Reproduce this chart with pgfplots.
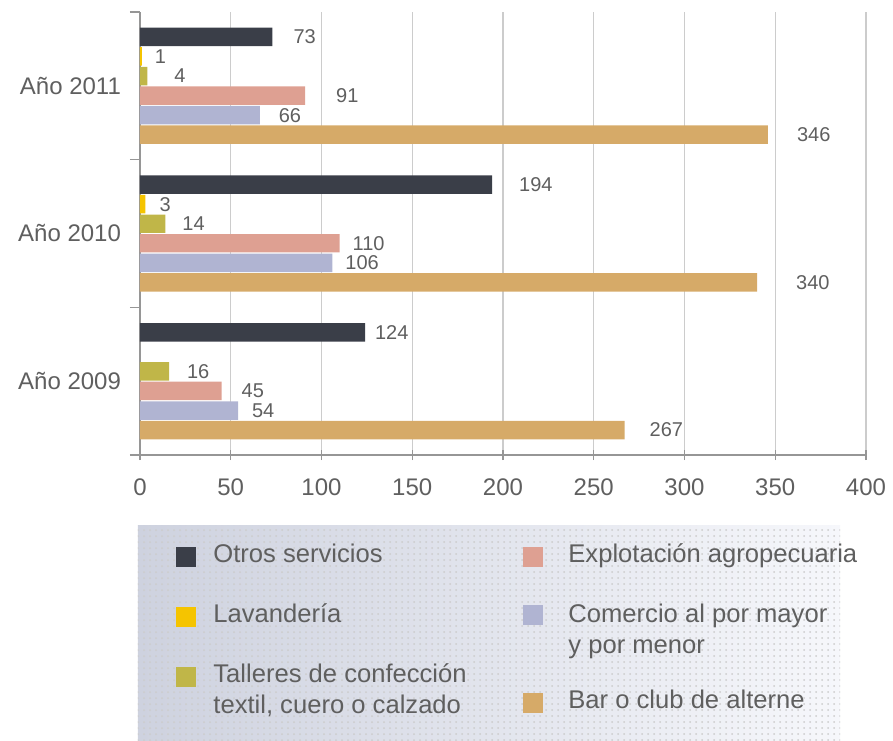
\documentclass[border=0pt]{standalone}
\usepackage{fontspec}
\setmainfont{Liberation Sans}
\usepackage{pgfplots}
\usepackage{pgfplotstable}
\pgfplotsset{compat=1.18}
\usetikzlibrary{patterns}

\definecolor{textgray}{RGB}{95,95,95}
\definecolor{axgray}{RGB}{150,150,150}
\definecolor{cotros}{RGB}{58,62,72}
\definecolor{clav}{RGB}{245,196,0}
\definecolor{ctal}{RGB}{192,182,72}
\definecolor{cexp}{RGB}{222,160,146}
\definecolor{ccom}{RGB}{176,180,210}
\definecolor{cbar}{RGB}{214,170,104}
\definecolor{bgleft}{RGB}{206,210,223}
\definecolor{bgright}{RGB}{246,247,251}

% x = value, y = bar position (group 2 = 2011, 1 = 2010, 0 = 2009), dx = label gap
\pgfplotstableread{
x   y      dx
73  2.331  7
194 1.331  10
124 0.331  1.5
}\otros
\pgfplotstableread{
x   y      dx
1   2.199  3
3   1.199  3.5
}\lav
\pgfplotstableread{
x   y      dx
4   2.066  10
14  1.066  5
16  0.066  5.5
}\tal
\pgfplotstableread{
x   y      dx
91  1.934  12
110 0.934  3
45  -0.066 6.5
}\expl
\pgfplotstableread{
x   y      dx
66  1.801  6
106 0.801  3
54  -0.199 3.5
}\com
\pgfplotstableread{
x   y      dx
346 1.669  11
340 0.669  16
267 -0.331 9
}\barclub

\begin{document}
\begin{tikzpicture}
\useasboundingbox (-70pt,-142.5pt) rectangle (376.5pt,227.5pt);

\begin{axis}[
    at={(0,0)}, anchor=south west,
    scale only axis,
    width=363pt, height=221.5pt,
    xmin=0, xmax=400, ymin=-0.5, ymax=2.5,
    axis x line*=bottom, axis y line*=left,
    axis line style={axgray, line width=0.6pt},
    xtick={0,50,...,400},
    xmajorgrids,
    grid style={gray!40, line width=0.6pt},
    ytick={-0.5,0.5,1.5,2.5},
    yticklabels={,,,},
    extra y ticks={0,1,2},
    extra y tick labels={Año 2009,Año 2010,Año 2011},
    extra y tick style={major tick length=0pt, yticklabel style={xshift=-6pt}},
    tick align=center,
    major tick length=5pt,
    tick style={axgray, line width=0.6pt},
    ticklabel style={font=\fontsize{12}{14}\selectfont, text=textgray},
    xticklabel style={yshift=-6pt},
    /pgf/number format/assume math mode=true,
    xbar, bar width=0.125, bar shift=0pt,
    visualization depends on={\thisrow{dx} \as \dx},
    nodes near coords,
    nodes near coords style={font=\fontsize{10}{12}\selectfont, text=textgray, anchor=west, xshift=\dx pt},
    clip=false,
]
\addplot[fill=cotros, draw=none] table[x=x, y=y] {\otros};
\addplot[fill=clav, draw=none] table[x=x, y=y] {\lav};
\addplot[fill=ctal, draw=none] table[x=x, y=y] {\tal};
\addplot[fill=cexp, draw=none] table[x=x, y=y] {\expl};
\addplot[fill=ccom, draw=none] table[x=x, y=y] {\com};
\addplot[fill=cbar, draw=none] table[x=x, y=y] {\barclub};
\end{axis}

% legend
\fill[left color=bgleft, right color=bgright] (-1pt,-35pt) rectangle (350pt,-142.5pt);
\fill[pattern=dots, pattern color=white!60!gray] (-1pt,-35pt) rectangle (350pt,-142.5pt);
\begin{scope}[every node/.style={font=\fontsize{12.8}{15.5}\selectfont, text=textgray, anchor=mid west, inner sep=0pt}]
\fill[cotros] (18pt,-56pt) rectangle (28pt,-46pt);
\node at (36.5pt,-51pt) {Otros servicios};
\fill[clav] (18pt,-86pt) rectangle (28pt,-76pt);
\node at (36.5pt,-81pt) {Lavandería};
\fill[ctal] (18pt,-116pt) rectangle (28pt,-106pt);
\node at (36.5pt,-111pt) {Talleres de confección};
\node at (36.5pt,-126.5pt) {textil, cuero o calzado};
\fill[cexp] (191.5pt,-56pt) rectangle (201.5pt,-46pt);
\node at (214pt,-51pt) {Explotación agropecuaria};
\fill[ccom] (191.5pt,-85pt) rectangle (201.5pt,-75pt);
\node at (214pt,-81pt) {Comercio al por mayor};
\node at (214pt,-96.5pt) {y por menor};
\fill[cbar] (191.5pt,-129pt) rectangle (201.5pt,-119pt);
\node at (214pt,-124pt) {Bar o club de alterne};
\end{scope}
\end{tikzpicture}
\end{document}
